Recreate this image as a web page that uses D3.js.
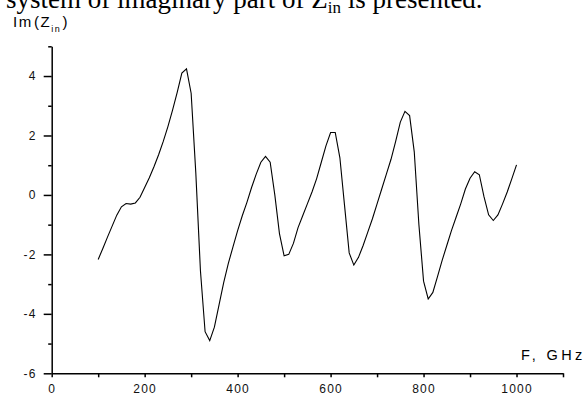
<!DOCTYPE html>
<html>
<head>
<meta charset="utf-8">
<script src="https://cdn.jsdelivr.net/npm/d3@7"></script>
<style>
  html, body { margin: 0; padding: 0; background: #fff; overflow: hidden; }
  svg { display: block; }
</style>
</head>
<body>
<script>
// Frequency samples (GHz) and Im(Zin)
const freqs = [100, 110, 120, 130, 140, 150, 160, 170, 180, 190,
  200, 210, 220, 230, 240, 250, 260, 270, 280, 290,
  300, 310, 320, 330, 340, 350, 360, 370, 380, 390,
  400, 410, 420, 430, 440, 450, 460, 470, 480, 490,
  500, 510, 520, 530, 540, 550, 560, 570, 580, 590,
  600, 610, 620, 630, 640, 650, 660, 670, 680, 690,
  700, 710, 720, 730, 740, 750, 760, 770, 780, 790,
  800, 810, 820, 830, 840, 850, 860, 870, 880, 890,
  900, 910, 920, 930, 940, 950, 960, 970, 980, 990, 1000];

const imZ = [-2.17, -1.80, -1.42, -1.05, -0.68, -0.40, -0.29, -0.31, -0.27, -0.08,
  0.25, 0.58, 0.95, 1.35, 1.80, 2.30, 2.85, 3.45, 4.10, 4.24,
  3.42, 0.75, -2.55, -4.60, -4.90, -4.45, -3.70, -2.95, -2.30, -1.75,
  -1.20, -0.70, -0.25, 0.25, 0.70, 1.10, 1.30, 1.10, 0.00, -1.30,
  -2.05, -2.00, -1.63, -1.10, -0.70, -0.30, 0.10, 0.55, 1.10, 1.65,
  2.10, 2.10, 1.25, -0.35, -1.95, -2.36, -2.10, -1.70, -1.25, -0.80,
  -0.30, 0.20, 0.70, 1.20, 1.80, 2.45, 2.81, 2.67, 1.45, -1.00,
  -2.90, -3.50, -3.28, -2.75, -2.20, -1.70, -1.20, -0.75, -0.30, 0.20,
  0.56, 0.78, 0.68, -0.06, -0.67, -0.86, -0.67, -0.30, 0.10, 0.55, 1.01];

// tick values
const xMajor = [0, 200, 400, 600, 800, 1000];
const xMinor = [100, 300, 500, 700, 900, 1100];
const yMajor = [-6, -4, -2, 0, 2, 4];
const yMinor = [-5, -3, -1, 1, 3, 5];

const width = 587, height = 394;
const sans = "'Liberation Sans', Arial, sans-serif";

const x = d3.scaleLinear().domain([0, 1100]).range([51.7, 563]);
const y = d3.scaleLinear().domain([-6, 5]).range([373.3, 46.3]);

const svg = d3.select("body").append("svg")
  .attr("width", width)
  .attr("height", height);

// cut-off line of body text above the figure
const caption = svg.append("text")
  .attr("x", 6)
  .attr("y", 8)
  .style("font-family", "'Liberation Serif', 'Times New Roman', serif")
  .style("font-size", "27px")
  .style("fill", "#000");
caption.append("tspan").text("system of imaginary part of Z");
caption.append("tspan").attr("dy", 5).style("font-size", "17px").text("in");
caption.append("tspan").attr("dy", -5).text(" is presented.");

// x axis
const gx = svg.append("g").attr("transform", `translate(0,${y(-6)})`);
gx.call(d3.axisBottom(x).tickValues(xMajor).tickFormat(d => String(d))
  .tickSize(4).tickSizeOuter(0).tickPadding(7));
gx.append("g").call(d3.axisBottom(x).tickValues(xMinor).tickSize(4).tickFormat(""))
  .select(".domain").remove();

// y axis
const gy = svg.append("g").attr("transform", `translate(${x(0)},0)`);
gy.call(d3.axisLeft(y).tickValues(yMajor).tickFormat(d => String(d))
  .tickSize(8).tickSizeOuter(0).tickPadding(7));
gy.append("g").call(d3.axisLeft(y).tickValues(yMinor).tickSize(3.5).tickFormat(""))
  .select(".domain").remove();

svg.selectAll(".domain, .tick line")
  .attr("stroke", "#000")
  .attr("stroke-width", 1.5);
svg.selectAll(".tick text")
  .style("font-family", sans)
  .style("font-size", "12px")
  .style("letter-spacing", "1.2px")
  .attr("fill", "#111");

// curve
const line = d3.line()
  .x((d, i) => x(freqs[i]))
  .y(d => y(d));

svg.append("path")
  .datum(imZ)
  .attr("d", line)
  .attr("fill", "none")
  .attr("stroke", "#000")
  .attr("stroke-width", 1.1)
  .attr("stroke-linejoin", "miter");

// axis titles
const yt = svg.append("text")
  .attr("x", 13)
  .attr("y", 27)
  .style("font-family", sans)
  .style("font-size", "15px")
  .style("letter-spacing", "1.6px")
  .style("fill", "#000");
yt.append("tspan").text("Im");
yt.append("tspan").attr("dx", 1).text("(Z");
yt.append("tspan").attr("dy", 5).style("font-size", "9px").text("in");
yt.append("tspan").attr("dy", -5).attr("dx", 1).text(")");

svg.append("text")
  .attr("x", 521)
  .attr("y", 360)
  .style("font-family", sans)
  .style("font-size", "14.5px")
  .style("letter-spacing", "3.4px")
  .style("fill", "#000")
  .text("F, GHz");
</script>
</body>
</html>
